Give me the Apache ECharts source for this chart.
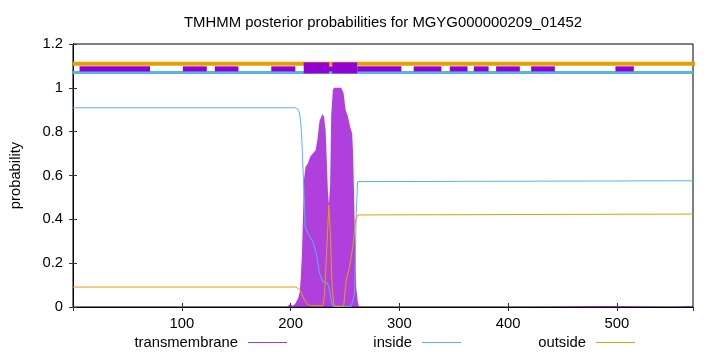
<!DOCTYPE html>
<html>
<head>
<meta charset="utf-8">
<script src="https://cdn.jsdelivr.net/npm/echarts@6/dist/echarts.min.js"></script>
<style>html,body{margin:0;padding:0;background:#fff}#c{width:720px;height:352px}</style>
</head>
<body>
<div id="c"></div>
<script>
// ---- data ----
const titleText = 'TMHMM posterior probabilities for MGYG000000209_01452';
const seriesNames = ['transmembrane', 'inside', 'outside'];
const xTicks = [100, 200, 300, 400, 500];
const yTicks = [0, 0.2, 0.4, 0.6, 0.8, 1, 1.2];

// transmembrane posterior [residue, probability]
const tmPoints = [
  [0,0],[197,0],[199,0.012],[200,0.004],[202,0.006],[204,0.012],[205,0.02],[207,0.04],[208.5,0.07],
  [209.5,0.14],[210.5,0.25],[211.5,0.42],[212.3,0.58],[213.8,0.64],[216,0.655],[218,0.685],
  [220.5,0.70],[223,0.715],[224.6,0.76],[226.7,0.85],[229.2,0.88],[230.7,0.87],[232.2,0.81],
  [233.4,0.66],[234.4,0.52],[235.3,0.47],[236.4,0.56],[237.4,0.88],[238.9,0.99],[240,1.0],
  [246.6,1.0],[248.8,0.975],[250.6,0.90],[252.7,0.87],[254.9,0.82],[256.7,0.79],[257.5,0.70],
  [258.9,0.40],[260.4,0.09],[261.9,0.02],[263,0],[422,0],[423,0.004],[489,0.004],[490,0],
  [551,0],[552,0.004],[567,0.004],[568,0],[570,0]
];
// inside posterior
const insidePoints = [
  [0,0.909],[204.5,0.909],[206.5,0.903],[208,0.89],[209,0.86],[210,0.80],[210.7,0.73],
  [212.2,0.534],[213.5,0.366],[216,0.336],[220.5,0.298],[223.6,0.245],[226.7,0.154],
  [229.7,0.115],[233.4,0.111],[235.2,0.093],[237.4,0.032],[239,0.003],[255.8,0.003],
  [258.9,0.062],[260.4,0.427],[261.6,0.572],[262.8,0.575],[570,0.576]
];
// outside posterior
const outsidePoints = [
  [0,0.091],[205,0.091],[206.7,0.088],[208,0.08],[209.8,0.07],[211,0.05],[212.9,0.032],
  [215,0.015],[217.5,0.007],[229.7,0.005],[231.3,0.06],[233.4,0.275],[235.2,0.465],
  [236.5,0.35],[238,0.123],[239.5,0.017],[241,0.003],[248.8,0.003],[251.2,0.123],
  [254.3,0.184],[257.3,0.275],[259.8,0.397],[261.9,0.42],[263.5,0.424],[570,0.424]
];

// topology track at the top
const outsideTrackY = 1.11;
const insideTrackY = 1.07;
const outsideTrackX = [0, 640];
const insideTrackX = [0, 570];
const boxStart = [6, 101, 130.4, 182.3, 235, 261.3, 313.2, 346.4, 368.5, 389, 421.2, 498.7, 212.1, 238.4];
const boxEnd   = [70.8, 123, 152.1, 204.4, 239, 301.9, 338.7, 362.7, 382.1, 410.8, 443, 515.6, 235.4, 261.3];
const boxLow   = [1.075, 1.075, 1.075, 1.075, 1.075, 1.075, 1.075, 1.075, 1.075, 1.075, 1.075, 1.075, 1.066, 1.066];
const boxHigh  = [1.098, 1.098, 1.098, 1.098, 1.098, 1.098, 1.098, 1.098, 1.098, 1.098, 1.098, 1.098, 1.116, 1.116];

// ---- chart ----
const PURPLE = '#9400d3', BLUE = '#56b4e9', ORANGE = '#e69f00';
const FONT = 'Liberation Sans';
const FS = 14.8;
const boxData = boxStart.map((s, i) => [s, boxEnd[i], boxLow[i], boxHigh[i]]);

const chart = echarts.init(document.getElementById('c'), null, {renderer: 'canvas'});
const legendBase = {
  orient: 'horizontal', top: 335, padding: 0, align: 'right', icon: 'rect',
  itemWidth: 39, itemHeight: 1.2, selectedMode: false,
  textStyle: {fontFamily: FONT, fontSize: FS, color: '#000', padding: [0, 5, 0, 0]}
};
chart.setOption({
  animation: false,
  backgroundColor: '#fff',
  textStyle: {fontFamily: FONT},
  title: {
    text: titleText, left: 184, top: 15, padding: 0,
    textStyle: {fontFamily: FONT, fontSize: 14.9, fontWeight: 'normal', color: '#000'}
  },
  legend: [
    Object.assign({}, legendBase, {data: [seriesNames[0]], right: 433}),
    Object.assign({}, legendBase, {data: [seriesNames[1]], right: 259}),
    Object.assign({}, legendBase, {data: [seriesNames[2]], right: 85})
  ],
  grid: {left: 73, right: 27, top: 44, bottom: 45, show: true, borderColor: '#000', borderWidth: 1, backgroundColor: 'transparent'},
  xAxis: [{
    type: 'value', min: 0, max: 570, interval: 100, position: 'bottom',
    axisLine: {show: true, lineStyle: {color: '#000'}},
    axisTick: {show: true, inside: true, length: 4, lineStyle: {color: '#333'}},
    axisLabel: {fontFamily: FONT, fontSize: FS, color: '#000', margin: 9, showMinLabel: false, showMaxLabel: false,
      formatter: v => xTicks.indexOf(v) >= 0 ? String(v) : ''},
    splitLine: {show: false}
  }, {
    type: 'value', min: 0, max: 570, interval: 100, position: 'top',
    axisLine: {show: true, lineStyle: {color: '#000'}},
    axisTick: {show: true, inside: true, length: 4, lineStyle: {color: '#333'}},
    axisLabel: {show: false}, splitLine: {show: false}
  }],
  yAxis: [{
    type: 'value', min: 0, max: 1.2, interval: 0.2, position: 'left',
    name: 'probability', nameLocation: 'middle', nameGap: 50, nameRotate: 90,
    nameTextStyle: {fontFamily: FONT, fontSize: FS, color: '#000'},
    axisLine: {show: true, lineStyle: {color: '#000'}},
    axisTick: {show: true, inside: true, length: 4, lineStyle: {color: '#333'}},
    axisLabel: {fontFamily: FONT, fontSize: FS, color: '#000', margin: 10,
      formatter: v => { const r = Math.round(v * 10) / 10; return yTicks.indexOf(r) >= 0 ? String(r) : ''; }},
    splitLine: {show: false}
  }, {
    type: 'value', min: 0, max: 1.2, interval: 0.2, position: 'right',
    axisLine: {show: true, lineStyle: {color: '#000'}},
    axisTick: {show: true, inside: true, length: 4, lineStyle: {color: '#333'}},
    axisLabel: {show: false}, splitLine: {show: false}
  }],
  series: [
    {
      name: seriesNames[0], type: 'line', data: tmPoints, showSymbol: false, symbol: 'none',
      color: '#a838dc', lineStyle: {color: '#b040de', width: 0},
      areaStyle: {color: PURPLE, opacity: 0.75, origin: 'start'}, z: 2
    },
    {
      name: seriesNames[1], type: 'line', data: insidePoints, showSymbol: false, symbol: 'none',
      color: BLUE, lineStyle: {color: BLUE, width: 1}, z: 3
    },
    {
      name: seriesNames[2], type: 'line', data: outsidePoints, showSymbol: false, symbol: 'none',
      color: ORANGE, lineStyle: {color: ORANGE, width: 1}, z: 4
    },
    {
      name: 'outsideTrack', type: 'line', clip: false, silent: true,
      data: outsideTrackX.map(x => [x, outsideTrackY]), showSymbol: false, symbol: 'none',
      lineStyle: {color: ORANGE, width: 4}, z: 5
    },
    {
      name: 'insideTrack', type: 'line', silent: true,
      data: insideTrackX.map(x => [x, insideTrackY]), showSymbol: false, symbol: 'none',
      lineStyle: {color: BLUE, width: 3}, z: 5
    },
    {
      name: 'tmTrack', type: 'custom', silent: true, z: 6,
      data: boxData, encode: {x: [0, 1], y: [2, 3]},
      renderItem: (params, api) => {
        const a = api.coord([api.value(0), api.value(3)]);
        const b = api.coord([api.value(1), api.value(2)]);
        return {type: 'rect', shape: {x: a[0], y: a[1], width: b[0] - a[0], height: b[1] - a[1]}, style: {fill: PURPLE}};
      }
    }
  ]
});
</script>
</body>
</html>
